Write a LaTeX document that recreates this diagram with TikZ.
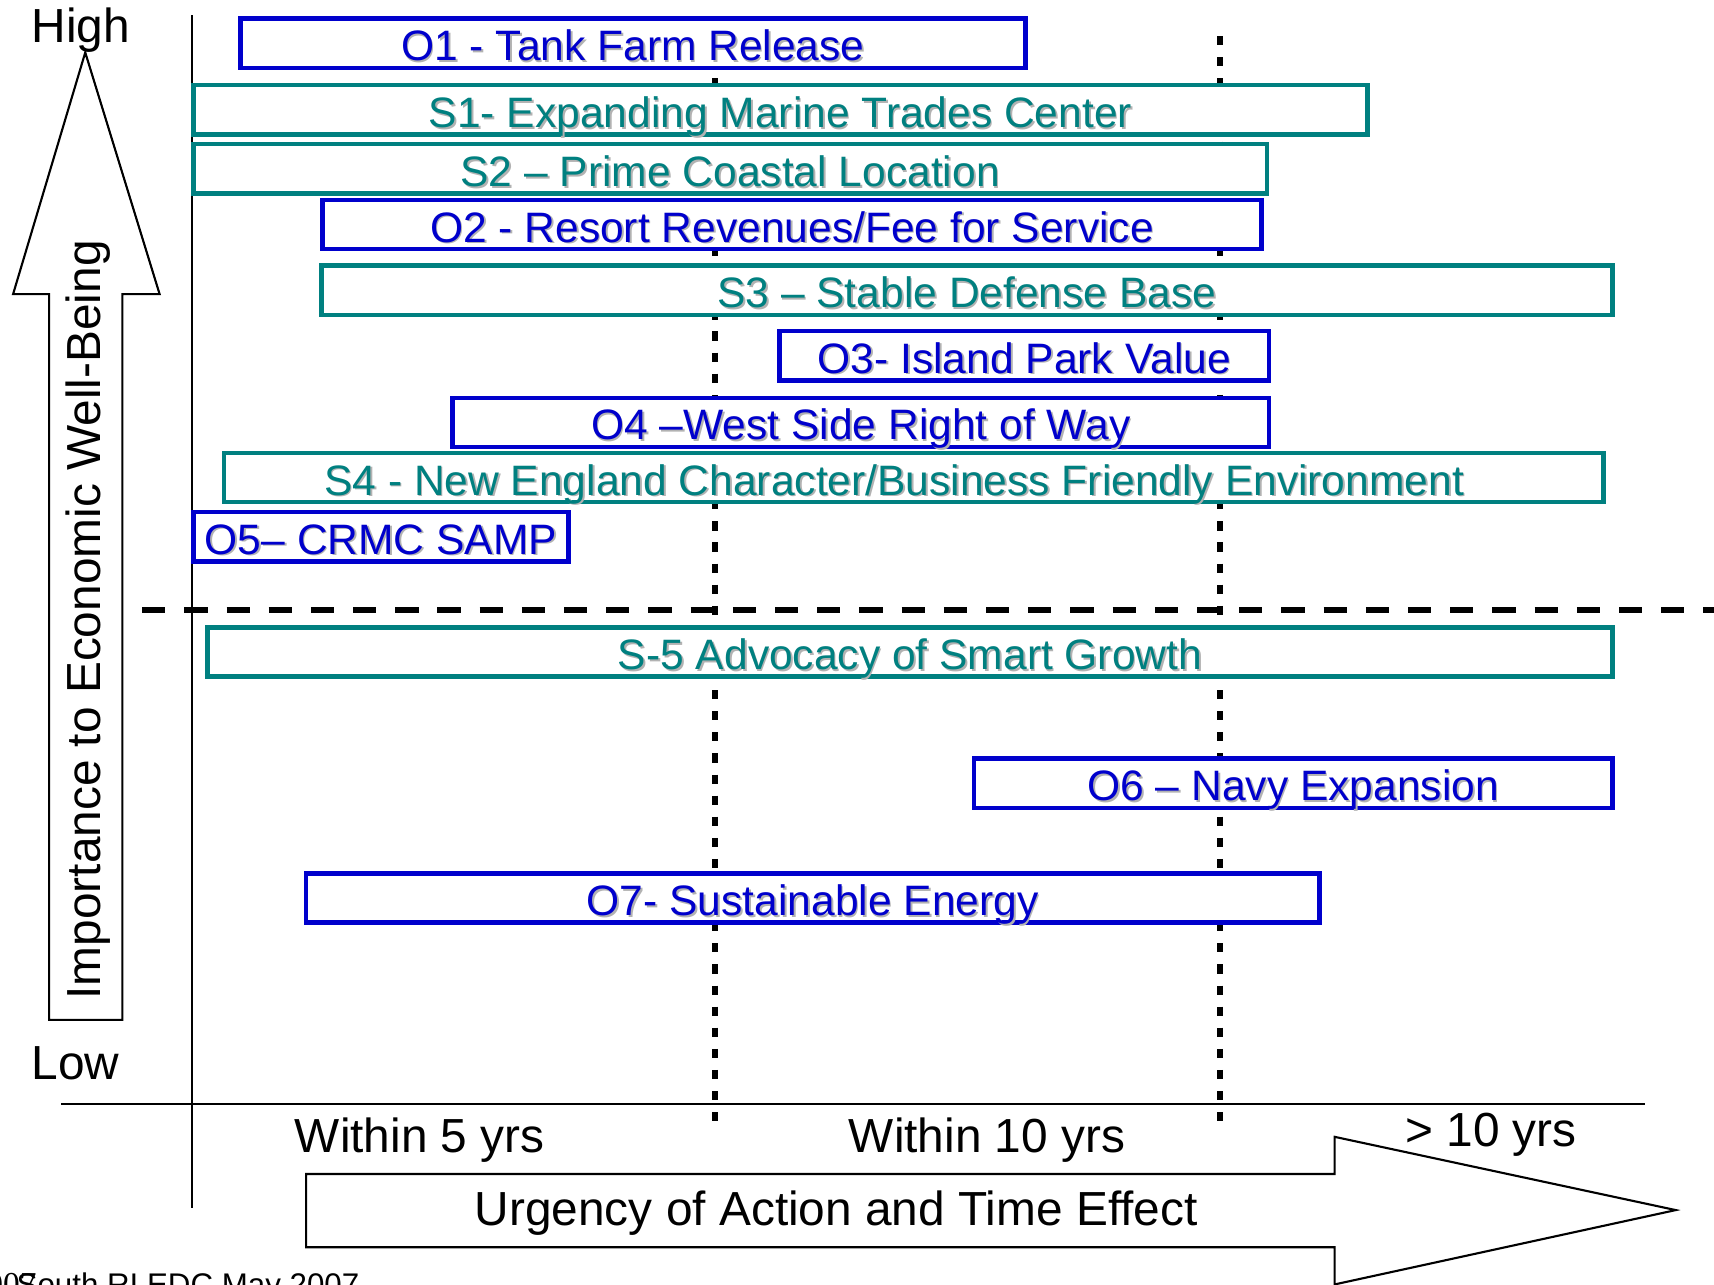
\documentclass[tikz,border=0pt]{standalone}
\usepackage{fontspec}
\setmainfont{Liberation Sans}
\newfontfamily\yearfont{Liberation Serif}
\usetikzlibrary{calc}
\definecolor{oppblue}{RGB}{0,0,204}
\definecolor{strteal}{RGB}{0,128,128}
\def\pxu{0.010931cm}% one pixel of the sketch
\newcommand\shadowed[1]{\makebox[0pt][l]{\hspace{0.5pt}\raisebox{-0.5pt}{\color{black!30}#1}}#1}
\tikzset{
	planbox/.style={draw, fill=white, line width=1.25pt, inner sep=0pt, text height=9.9pt, text depth=0pt, minimum height=45*\pxu, font=\fontsize{12.1}{14}\selectfont},
	obox/.style={planbox, draw=oppblue, text=oppblue},
	sbox/.style={planbox, draw=strteal, text=strteal},
	axislabel/.style={font=\fontsize{13.6}{16}\selectfont},
	dotline/.style={line width=1.9pt, dash pattern=on 2.6pt off 3.4pt},
	dashline/.style={line width=1.6pt, dash pattern=on 6.6pt off 5.4pt},
}

\begin{document}
\begin{tikzpicture}[x=0.010931cm, y=-0.010931cm]
	\useasboundingbox (0,0) rectangle (1568,1175);
	% axes
	\coordinate (ytop) at (176,14);
	\coordinate (ybot) at (176,1105);
	\coordinate (xleft) at (56,1010);
	\coordinate (xright) at (1505,1010);
	\draw[line width=0.6pt] (ytop) -- (ybot);
	\draw[line width=0.6pt] (xleft) -- (xright);
	% time limits and importance limit
	\coordinate (five top) at (654,33);
	\coordinate (five bot) at (654,1035);
	\coordinate (ten top) at (1116,33);
	\coordinate (ten bot) at (1116,1035);
	\draw[dotline] (five top) -- (five bot);
	\draw[dotline] (ten top) -- (ten bot);
	\coordinate (limit left) at (130,558);
	\coordinate (limit right) at (1568,558);
	\draw[dashline] (limit left) -- (limit right);
	% big arrows
	\draw[line width=0.6pt, fill=white] (45,933) -- (45,269) -- (12,269) -- (78,48) -- (146,269) -- (112,269) -- (112,933) -- cycle;
	\draw[line width=0.6pt, fill=white] (280,1074) -- (1221,1074) -- (1221,1040) -- (1533,1107) -- (1221,1175) -- (1221,1141) -- (280,1141) -- cycle;
	\node[axislabel, rotate=90] (importance) at (81,567) {Importance to Economic Well-Being};
	\node[axislabel] (urgency) at (765,1110) {Urgency of Action and Time Effect};
	\node[axislabel] (high) at (74,28) {High};
	\node[axislabel] (low) at (69,973) {Low};
	\node[axislabel] (five) at (384,1043) {Within 5 yrs};
	\node[axislabel] (ten) at (903,1043) {Within 10 yrs};
	\node[axislabel] (beyond) at (1364,1038) {> 10 yrs};
	% opportunities and strengths
	\node[obox, minimum width=718*\pxu] (o1) at (579,39.5) {\shadowed{O1 - Tank Farm Release}};
	\node[sbox, minimum width=1074*\pxu] (s1) at (714,100.5) {\shadowed{S1- Expanding Marine Trades Center}};
	\node[sbox, minimum width=982*\pxu] (s2) at (668,154.5) {\shadowed{S2 – Prime Coastal Location}};
	\node[obox, minimum width=859*\pxu] (o2) at (724.5,205.5) {\shadowed{O2 - Resort Revenues/Fee for Service}};
	\node[sbox, minimum width=1181*\pxu] (s3) at (884.5,265.5) {\shadowed{S3 – Stable Defense Base}};
	\node[obox, minimum width=448*\pxu] (o3) at (937,325.5) {\shadowed{O3- Island Park Value}};
	\node[obox, minimum width=747*\pxu] (o4) at (787.5,386.5) {\shadowed{O4 –West Side Right of Way}};
	\node[sbox, minimum width=1262*\pxu] (s4) at (836,437) {\makebox[0pt]{\hspace*{-11.2pt}\shadowed{S4 - New England Character/Business Friendly Environment}}};
	\node[obox, minimum width=343*\pxu] (o5) at (348.5,491) {\shadowed{O5– CRMC SAMP}};
	\node[sbox, minimum width=1285*\pxu] (s5) at (832.5,596.5) {\shadowed{S-5 Advocacy of Smart Growth}};
	\node[obox, minimum width=584*\pxu] (o6) at (1183,716.5) {\shadowed{O6 – Navy Expansion}};
	\node[obox, minimum width=927*\pxu] (o7) at (743.5,821.5) {\shadowed{O7- Sustainable Energy}};
	% footer, cut by the page edge
	\node[font=\fontsize{8.9}{10}\selectfont, anchor=base west, inner sep=0pt] (credit) at (14.6,1185) {South RI EDC May 2007};
	\node[font=\yearfont\fontsize{9.5}{10}\selectfont, anchor=base east, inner sep=0pt] (year) at (34,1185) {2007};
\end{tikzpicture}
\end{document}
